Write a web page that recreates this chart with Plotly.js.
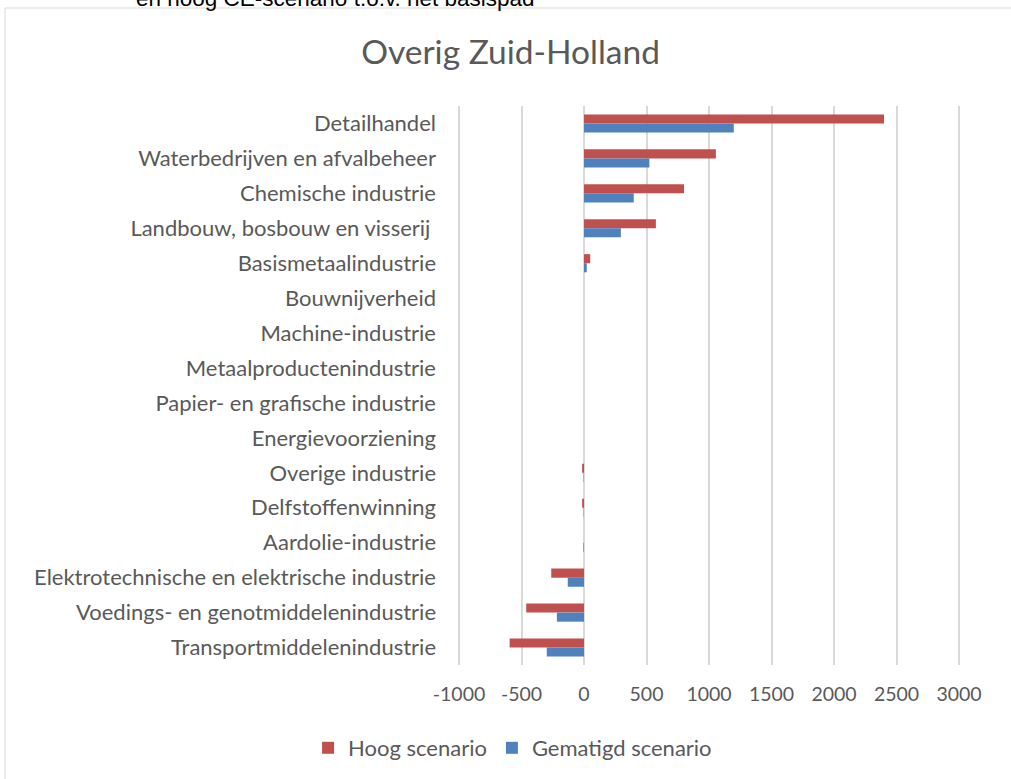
<!DOCTYPE html>
<html>
<head>
<meta charset="utf-8">
<script src="https://cdn.plot.ly/plotly-3.0.1.min.js"></script>
<style>
html,body{margin:0;padding:0;background:#fff;}
#chart{width:1011px;height:779px;}
</style>
</head>
<body>
<div id="chart"></div>
<script>
const categories = [
  "Detailhandel",
  "Waterbedrijven en afvalbeheer",
  "Chemische industrie",
  "Landbouw, bosbouw en visserij ",
  "Basismetaalindustrie",
  "Bouwnijverheid",
  "Machine-industrie",
  "Metaalproductenindustrie",
  "Papier- en grafische industrie",
  "Energievoorziening",
  "Overige industrie",
  "Delfstoffenwinning",
  "Aardolie-industrie",
  "Elektrotechnische en elektrische industrie",
  "Voedings- en genotmiddelenindustrie",
  "Transportmiddelenindustrie"
];
const hoogScenario = [2400, 1055, 800, 575, 50, 0, 0, 0, 0, 0, -15, -15, 0, -262, -462, -595];
const gematigdScenario = [1198, 523, 398, 295, 22, 0, 0, 0, 0, 0, -3, -3, -5, -130, -217, -298];
const xTicks = [-1000, -500, 0, 500, 1000, 1500, 2000, 2500, 3000];

const font = "Lato, 'Open Sans', sans-serif";
const grey = "#595959";

const traces = [
  {type: "bar", orientation: "h", name: "Hoog scenario", y: categories, x: hoogScenario,
   marker: {color: "#C0504D", line: {width: 0}}},
  {type: "bar", orientation: "h", name: "Gematigd scenario", y: categories, x: gematigdScenario,
   marker: {color: "#4F81BD", line: {width: 0}}}
];

const L = 456, R = 1011 - 962;
const layout = {
  width: 1011, height: 779,
  margin: {l: L, r: R, t: 106, b: 114},
  paper_bgcolor: "#fff", plot_bgcolor: "#fff",
  font: {family: font, color: grey, size: 20},
  title: {text: "Overig Zuid-Holland", x: 0.505, xref: "container", y: 1 - 52/779, yref: "container",
          yanchor: "middle", font: {family: font, size: 33.5, color: grey}},
  barmode: "group", bargap: 0.48, bargroupgap: 0,
  xaxis: {range: [-1024, 3024], tickvals: xTicks, ticktext: xTicks.map(String),
          showgrid: true, gridcolor: "#d9d9d9", gridwidth: 2, zeroline: true, zerolinecolor: "#d9d9d9",
          zerolinewidth: 2, showline: false, ticks: "", ticklabelstandoff: 15,
          tickfont: {family: font, size: 19.5, color: grey}, fixedrange: true},
  yaxis: {type: "category", categoryorder: "array", categoryarray: categories, autorange: "reversed",
          showgrid: false, zeroline: false, showline: false, ticks: "", ticklabelstandoff: 19,
          tickfont: {family: font, size: 22, color: grey}, fixedrange: true},
  showlegend: true,
  legend: {orientation: "h", xref: "container", yref: "container", x: 0.507, y: 1 - 748/779,
           xanchor: "center", yanchor: "middle", font: {family: font, size: 22, color: grey},
           itemwidth: 30, traceorder: "normal", itemclick: false},
  shapes: [
    {type: "rect", xref: "paper", yref: "paper",
     x0: (5 - L) / (1011 - L - R), x1: (1015 - L) / (1011 - L - R),
     y0: (665 - 785) / 559, y1: (665 - 8) / 559,
     line: {color: "#d9d9d9", width: 1}, fillcolor: "rgba(0,0,0,0)", layer: "below"}
  ],
  annotations: [
    {text: "en hoog CE-scenario t.o.v. het basispad", xref: "paper", yref: "paper",
     x: (134 - L) / (1011 - L - R), y: (665 + 2) / 559, xanchor: "left", yanchor: "middle",
     showarrow: false, font: {family: "'Liberation Sans', Arial, sans-serif", size: 22.5, color: "#000"}}
  ]
};

Plotly.newPlot("chart", traces, layout, {displayModeBar: false, staticPlot: true});
</script>
</body>
</html>
